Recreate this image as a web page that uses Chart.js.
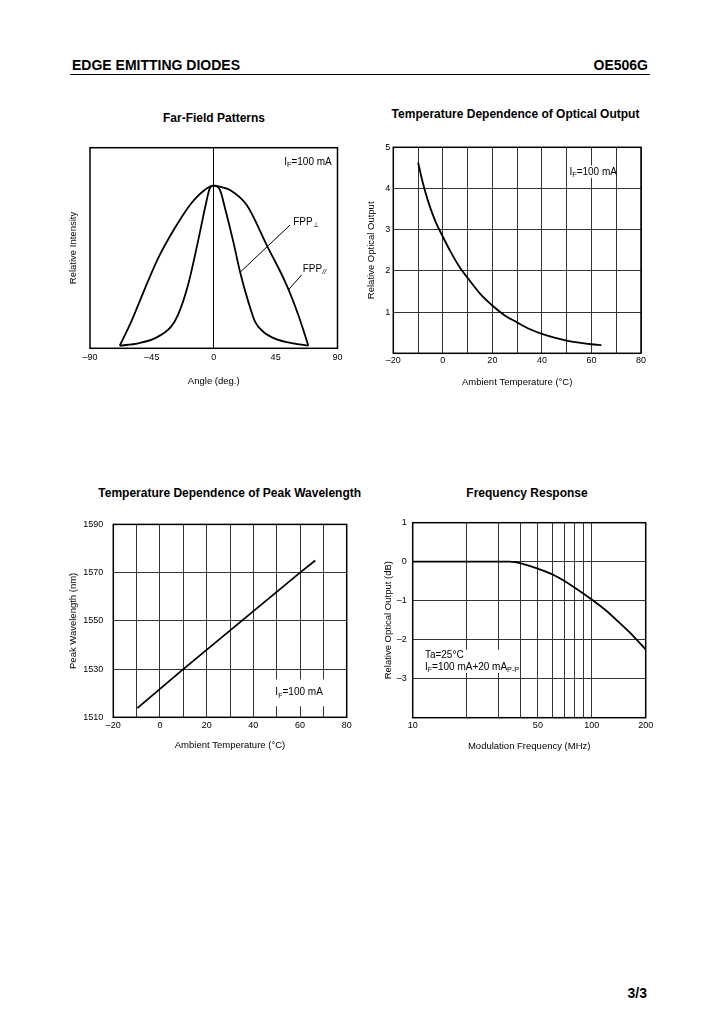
<!DOCTYPE html>
<html>
<head>
<meta charset="utf-8">
<script src="https://cdn.jsdelivr.net/npm/chart.js@4.4.1/dist/chart.umd.min.js"></script>
<style>
  html, body { margin: 0; padding: 0; background: #fff; }
  body { width: 725px; height: 1012px; position: relative; overflow: hidden;
         font-family: 'Liberation Sans', Arial, Helvetica, sans-serif; color: #000; }
  .hdr { position: absolute; font-weight: bold; font-size: 14px; line-height: 14px; white-space: nowrap; }
  .rule { position: absolute; left: 70px; width: 580px; top: 73.5px; border-top: 1px solid #000; }
  .ttl { position: absolute; font-weight: bold; font-size: 12px; line-height: 12px; white-space: nowrap; transform: translateX(-50%); }
  canvas { position: absolute; }
</style>
</head>
<body>
<div class="hdr" style="left:72px; top:57.6px;">EDGE EMITTING DIODES</div>
<div class="hdr" style="right:77px; top:57.6px;">OE506G</div>
<div class="rule"></div>

<div class="ttl" style="left:214px; top:112.4px;">Far-Field Patterns</div>
<div class="ttl" style="left:515.5px; top:108.1px;">Temperature Dependence of Optical Output</div>
<div class="ttl" style="left:229.7px; top:487.4px;">Temperature Dependence of Peak Wavelength</div>
<div class="ttl" style="left:527px; top:486.8px;">Frequency Response</div>

<canvas id="farField"></canvas>
<canvas id="optOut"></canvas>
<canvas id="peakWl"></canvas>
<canvas id="freqResp"></canvas>

<div class="hdr" style="right:78px; top:986px;">3/3</div>

<script>
// Far-field patterns (relative intensity, peak = 1)
const fppParAngle = [-68.4, -60, -50, -40.5, -28.4, -16.3, -6.6, 0, 5, 11.8, 24, 38.5, 53, 61.5, 68.8];
const fppParValue = [0.016, 0.164, 0.369, 0.553, 0.738, 0.892, 0.974, 1.0, 0.993, 0.974, 0.881, 0.635, 0.389, 0.205, 0.016];
const fppPerpAngle = [-68.4, -55, -43, -31, -26, -18.7, -11.5, -5.4, -2.9, 0, 4.5, 8.2, 14.2, 19.1, 25.1, 30, 36, 45.8, 57.8, 68.8];
const fppPerpValue = [0.016, 0.031, 0.061, 0.133, 0.205, 0.389, 0.656, 0.90, 0.984, 1.0, 0.974, 0.861, 0.656, 0.471, 0.287, 0.164, 0.102, 0.055, 0.031, 0.016];

// Temperature dependence of optical output
const optTemp = [-10, -8, -6, -3, 0, 3, 7, 10, 15, 20, 25, 30, 35, 40, 45, 50, 55, 60, 64];
const optOutput = [4.63, 4.12, 3.7, 3.2, 2.83, 2.48, 2.07, 1.83, 1.45, 1.16, 0.92, 0.75, 0.59, 0.47, 0.38, 0.31, 0.26, 0.22, 0.20];

// Temperature dependence of peak wavelength (nm)
const wlTemp = [-9.7, 10, 35, 60, 66.5];
const wlPeak = [1513.8, 1530, 1550, 1570, 1575];

// Frequency response (dB)
const freqMHz = [10, 20, 30, 34.6, 41.5, 50.7, 61.3, 70, 80, 90, 100, 120, 140, 170, 200];
const freqDb = [0, 0, 0, 0, -0.06, -0.19, -0.34, -0.49, -0.66, -0.82, -0.97, -1.25, -1.53, -1.9, -2.25];
const freqGrid = [10, 20, 30, 40, 50, 60, 70, 80, 90, 100, 200];
const freqLabels = [10, 50, 100, 200];

const FONT = "'Liberation Sans', Arial, Helvetica, sans-serif";
const TICK_SIZE = 9;
const TITLE_SIZE = 9.5;
const NOTE_SIZE = 10;
const TITLE_LH = TITLE_SIZE * 1.2;
const GRID = '#333';
const dash = v => (v < 0 ? '\u2013' + Math.abs(v) : String(v));

// annotations, in data units of each chart
const notes = {
  farField: {
    texts: [
      { x: 85.8, y: 1.148, align: 'right', parts: [['I'], ['F', 1], ['=100 mA']] },
      { x: 57.8, y: 0.783, align: 'left', parts: [['FPP'], ['\u22A5', 1]] },
      { x: 64.7, y: 0.492, align: 'left', parts: [['FPP'], ['//', 2]] }
    ],
    lines: [[55.5, 0.758, 19.1, 0.467], [63.9, 0.451, 54.2, 0.359]]
  },
  optOut: {
    blank: [[52, 4.26, 69.5, 4.56]],
    texts: [{ x: 60.7, y: 4.41, align: 'center', parts: [['I'], ['F', 1], ['=100 mA']] }]
  },
  peakWl: {
    blank: [[47, 1514.6, 73, 1525.7]],
    texts: [{ x: 59.6, y: 1520.6, align: 'center', parts: [['I'], ['F', 1], ['=100 mA']] }]
  },
  freqResp: {
    blank: [[10.7, -2.85, 37, -2.26]],
    texts: [
      { x: 11.7, y: -2.37, align: 'left', parts: [['Ta=25\u00B0C']] },
      { x: 11.7, y: -2.69, align: 'left', parts: [['I'], ['F', 1], ['=100 mA+20 mA'], ['P-P', 1]] }
    ]
  }
};

function drawRich(ctx, parts, x, y, align, size) {
  const fontOf = p => (p[1] === 2 ? 'italic ' : '') + (p[1] ? size * 0.72 : size) + 'px ' + FONT;
  let total = 0;
  parts.forEach(p => { ctx.font = fontOf(p); total += ctx.measureText(p[0]).width; });
  let cx = align === 'right' ? x - total : align === 'center' ? x - total / 2 : x;
  const base = y + size * 0.36;
  ctx.textAlign = 'left';
  ctx.textBaseline = 'alphabetic';
  parts.forEach(p => {
    ctx.font = fontOf(p);
    ctx.fillText(p[0], cx, base + (p[1] ? size * 0.22 : 0));
    cx += ctx.measureText(p[0]).width;
  });
}

const framePlugin = {
  id: 'frame',
  beforeDatasetsDraw(chart) {
    const n = notes[chart.canvas.id];
    if (!n || !n.blank) return;
    const { ctx, scales: { x, y } } = chart;
    ctx.save();
    ctx.fillStyle = '#fff';
    n.blank.forEach(b => {
      const x1 = x.getPixelForValue(b[0]), x2 = x.getPixelForValue(b[2]);
      const y1 = y.getPixelForValue(b[1]), y2 = y.getPixelForValue(b[3]);
      ctx.fillRect(Math.min(x1, x2), Math.min(y1, y2), Math.abs(x2 - x1), Math.abs(y2 - y1));
    });
    ctx.restore();
  },
  afterDatasetsDraw(chart) {
    const n = notes[chart.canvas.id];
    const { ctx, chartArea: a, scales: { x, y } } = chart;
    ctx.save();
    if (n) {
      ctx.strokeStyle = '#000';
      ctx.lineWidth = 1;
      (n.lines || []).forEach(l => {
        ctx.beginPath();
        ctx.moveTo(x.getPixelForValue(l[0]), y.getPixelForValue(l[1]));
        ctx.lineTo(x.getPixelForValue(l[2]), y.getPixelForValue(l[3]));
        ctx.stroke();
      });
      ctx.fillStyle = '#000';
      (n.texts || []).forEach(t => {
        drawRich(ctx, t.parts, x.getPixelForValue(t.x), y.getPixelForValue(t.y), t.align, NOTE_SIZE);
      });
    }
    // plot frame
    ctx.strokeStyle = '#000';
    ctx.lineWidth = 1.5;
    ctx.strokeRect(a.left, a.top, a.right - a.left, a.bottom - a.top);
    ctx.restore();
  }
};

// place a canvas so that its plot area lands on the given page rectangle
function mount(id, p) {
  const x0 = Math.floor(p.yTitleX - TITLE_LH / 2 - 3);
  const y0 = Math.floor(p.t - 14);
  const w = Math.ceil(p.r + 16 - x0);
  const h = Math.ceil(p.xTitleY + TITLE_LH / 2 + 3 - y0);
  const canvas = document.getElementById(id);
  canvas.width = w;
  canvas.height = h;
  canvas.style.left = x0 + 'px';
  canvas.style.top = y0 + 'px';
  canvas.style.width = w + 'px';
  canvas.style.height = h + 'px';
  return {
    canvas,
    padding: {
      left: p.yTitleX - TITLE_LH / 2 - x0,
      top: p.t - y0,
      right: x0 + w - p.r,
      bottom: y0 + h - (p.xTitleY + TITLE_LH / 2)
    },
    yWidth: p.l - (p.yTitleX - TITLE_LH / 2),
    xHeight: p.xTitleY + TITLE_LH / 2 - p.b
  };
}

function xAxis(fr, o) {
  return {
    type: o.type || 'linear', position: 'bottom', min: o.min, max: o.max,
    border: { display: false },
    grid: { color: o.gridColor || GRID, lineWidth: 1, drawTicks: false },
    ticks: {
      stepSize: o.step, font: { family: FONT, size: TICK_SIZE }, color: '#000',
      padding: o.pad, autoSkip: false, maxRotation: 0, callback: o.label
    },
    title: { display: true, text: o.title, font: { family: FONT, size: TITLE_SIZE }, color: '#000', padding: 0 },
    afterBuildTicks: o.ticks ? s => { s.ticks = o.ticks.map(v => ({ value: v })); } : undefined,
    afterFit: s => { s.height = fr.xHeight; }
  };
}

function yAxis(fr, o) {
  return {
    type: 'linear', position: 'left', min: o.min, max: o.max,
    border: { display: false },
    grid: { display: o.grid !== false, color: GRID, lineWidth: 1, drawTicks: false },
    ticks: {
      display: o.labels !== false, stepSize: o.step, font: { family: FONT, size: TICK_SIZE }, color: '#000',
      padding: o.pad, autoSkip: false, callback: o.label
    },
    title: { display: true, text: o.title, font: { family: FONT, size: TITLE_SIZE }, color: '#000', padding: 0 },
    afterFit: s => { s.width = fr.yWidth; }
  };
}

function lineSet(xs, ys, smooth) {
  return {
    data: xs.map((v, i) => ({ x: v, y: ys[i] })),
    borderColor: '#000', borderWidth: 1.8, pointRadius: 0,
    cubicInterpolationMode: smooth ? 'monotone' : 'default', tension: 0, fill: false
  };
}

function baseOptions(fr, xs, ys) {
  return {
    responsive: false, animation: false, devicePixelRatio: 1,
    layout: { padding: fr.padding },
    plugins: { legend: { display: false }, tooltip: { enabled: false }, title: { display: false } },
    scales: { x: xs, y: ys }
  };
}

// Far-Field Patterns
const f1 = mount('farField', { l: 90, r: 337.5, t: 147.7, b: 348.3, yTitleX: 73.3, xTitleY: 381.7 });
new Chart(f1.canvas, {
  type: 'line',
  data: { datasets: [lineSet(fppParAngle, fppParValue, true), lineSet(fppPerpAngle, fppPerpValue, true)] },
  options: baseOptions(f1,
    xAxis(f1, { min: -90, max: 90, step: 45, pad: 4, title: 'Angle (deg.)', label: v => dash(v),
      gridColor: c => (c.tick && c.tick.value === 0 ? '#000' : 'rgba(0,0,0,0)') }),
    yAxis(f1, { min: 0, max: 1.2337, grid: false, labels: false, title: 'Relative Intensity' })),
  plugins: [framePlugin]
});

// Temperature Dependence of Optical Output
const f2 = mount('optOut', { l: 393.3, r: 641, t: 147.3, b: 353.3, yTitleX: 371.7, xTitleY: 382.7 });
new Chart(f2.canvas, {
  type: 'line',
  data: { datasets: [lineSet(optTemp, optOutput, true)] },
  options: baseOptions(f2,
    xAxis(f2, { min: -20, max: 80, step: 10, pad: 2, title: 'Ambient Temperature (\u00B0C)',
      label: v => (v % 20 === 0 ? dash(v) : '') }),
    yAxis(f2, { min: 0, max: 5, step: 1, pad: 3, title: 'Relative Optical Output',
      label: v => (v === 0 ? '' : dash(v)) })),
  plugins: [framePlugin]
});

// Temperature Dependence of Peak Wavelength
const f3 = mount('peakWl', { l: 113.3, r: 346.7, t: 523.3, b: 717.3, yTitleX: 73.3, xTitleY: 745.7 });
new Chart(f3.canvas, {
  type: 'line',
  data: { datasets: [lineSet(wlTemp, wlPeak, false)] },
  options: baseOptions(f3,
    xAxis(f3, { min: -20, max: 80, step: 10, pad: 3, title: 'Ambient Temperature (\u00B0C)',
      label: v => (v % 20 === 0 ? dash(v) : '') }),
    yAxis(f3, { min: 1510, max: 1590, step: 20, pad: 10, title: 'Peak Wavelength (nm)',
      label: v => String(v) })),
  plugins: [framePlugin]
});

// Frequency Response
const f4 = mount('freqResp', { l: 412.7, r: 645.7, t: 522.7, b: 717.7, yTitleX: 388.3, xTitleY: 746.7 });
new Chart(f4.canvas, {
  type: 'line',
  data: { datasets: [lineSet(freqMHz, freqDb, true)] },
  options: baseOptions(f4,
    xAxis(f4, { type: 'logarithmic', min: 10, max: 200, pad: 2, ticks: freqGrid,
      title: 'Modulation Frequency (MHz)', label: v => (freqLabels.includes(v) ? String(v) : '') }),
    yAxis(f4, { min: -4, max: 1, step: 1, pad: 6, title: 'Relative Optical Output (dB)',
      label: v => (v === -4 ? '' : dash(v)) })),
  plugins: [framePlugin]
});
</script>
</body>
</html>
